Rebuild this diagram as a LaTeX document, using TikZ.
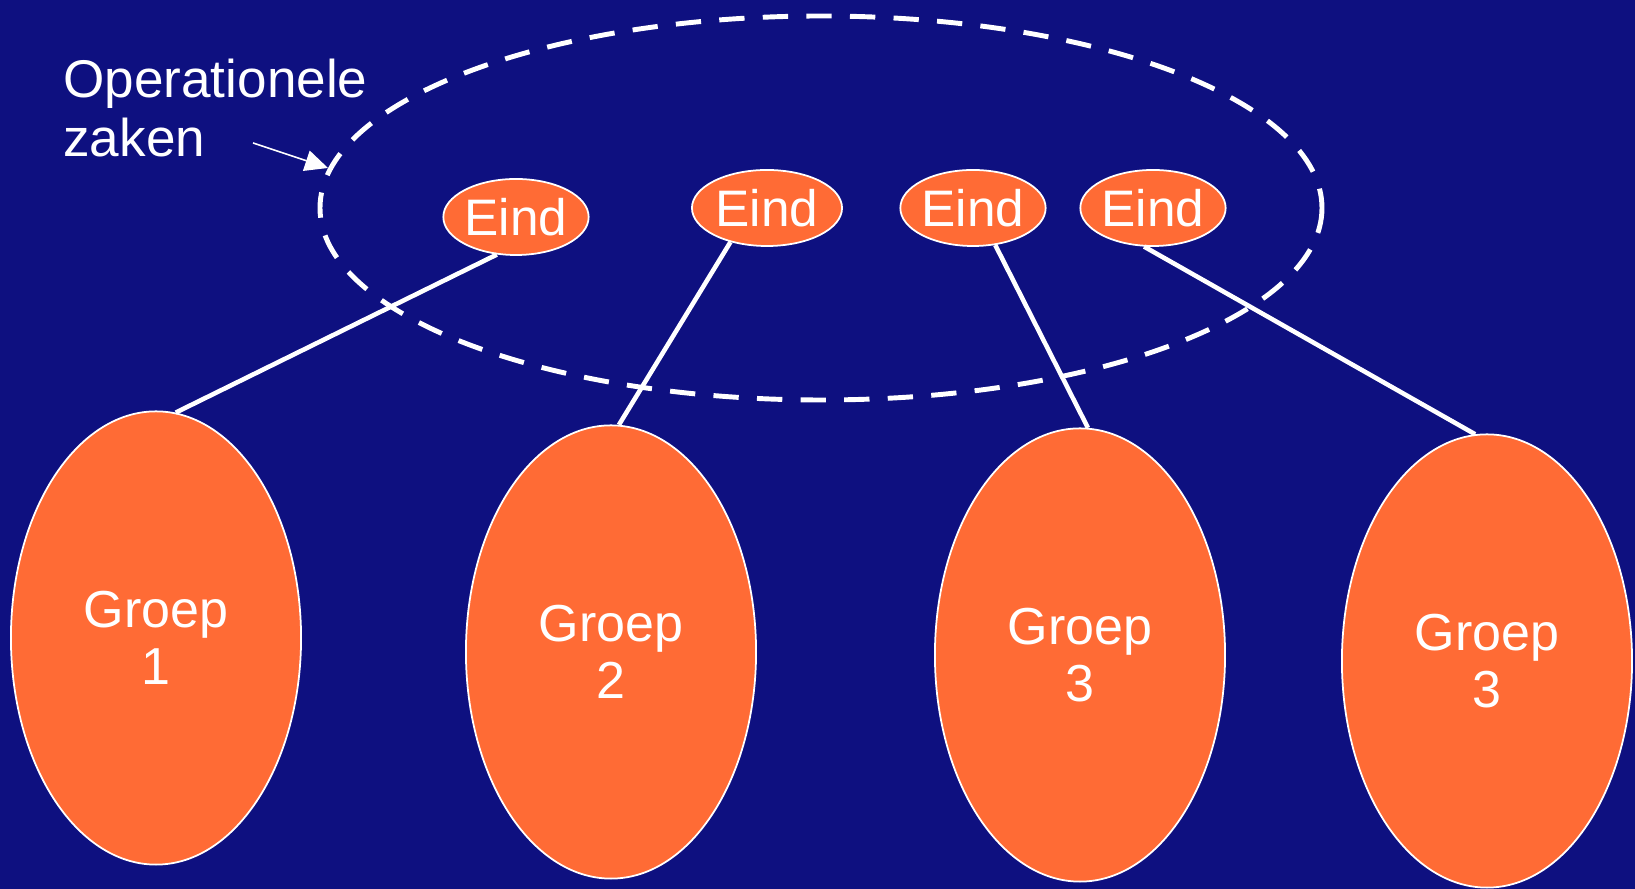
\documentclass[tikz,border=0pt]{standalone}
\usepackage{fontspec}
\setmainfont{Liberation Sans}
\usetikzlibrary{shapes.geometric,arrows.meta}
\definecolor{slide-blue}{HTML}{0E1080}
\definecolor{slide-orange}{HTML}{FF6B35}
\tikzset{
    eind-node/.style = {ellipse, draw=white, line width=0.5pt, fill=slide-orange, text=white, inner sep=0pt, minimum width=1.4cm, minimum height=0.76cm, font=\fontsize{14.6}{16}\selectfont},
    groep-node/.style = {ellipse, draw=white, line width=0.5pt, fill=slide-orange, text=white, inner sep=0pt, minimum width=2.9cm, minimum height=4.53cm, align=center, font=\fontsize{14.8}{16.3}\selectfont},
    link/.style = {draw=white, line width=1.3pt},
}

\begin{document}
\begin{tikzpicture}[x=0.01cm, y=-0.01cm]
\useasboundingbox (0,0) rectangle (1635,889);
\fill[slide-blue] (0,0) rectangle (1635,889);
% dashed circle round the ends
\draw[white, line width=1.4pt, dash pattern=on 7.2pt off 5.2pt] (821,208) ellipse [x radius=501, y radius=192];
\node[text=white, align=left, anchor=base west, font=\fontsize{15.1}{16.8}\selectfont] (ops-label) at (51,157) {Operationele\\zaken};
\coordinate (ops-from) at (253,143);
\coordinate (ops-to) at (328,168);
\draw[white, line width=0.45pt, -{Triangle[length=6.5pt, width=6pt]}] (ops-from) -- (ops-to);

\node[eind-node] (eind-1) at (516,217) {Eind};
\node[eind-node, minimum width=1.5cm] (eind-2) at (767,208) {Eind};
\node[eind-node] (eind-3) at (973,208) {Eind};
\node[eind-node] (eind-4) at (1153,208) {Eind};

\node[groep-node] (groep-1) at (156,638) {Groep\\1};
\node[groep-node] (groep-2) at (611,652) {Groep\\2};
\node[groep-node] (groep-3) at (1080,655) {Groep\\3};
\node[groep-node] (groep-4) at (1487,661) {Groep\\3};

\draw[link] (eind-1.243) -- (groep-1.85);
\draw[link] (eind-2.223) -- (groep-2.88);
\draw[link] (eind-3.301) -- (groep-3.88);
\draw[link] (eind-4.257) -- (groep-4.93);
\end{tikzpicture}
\end{document}
